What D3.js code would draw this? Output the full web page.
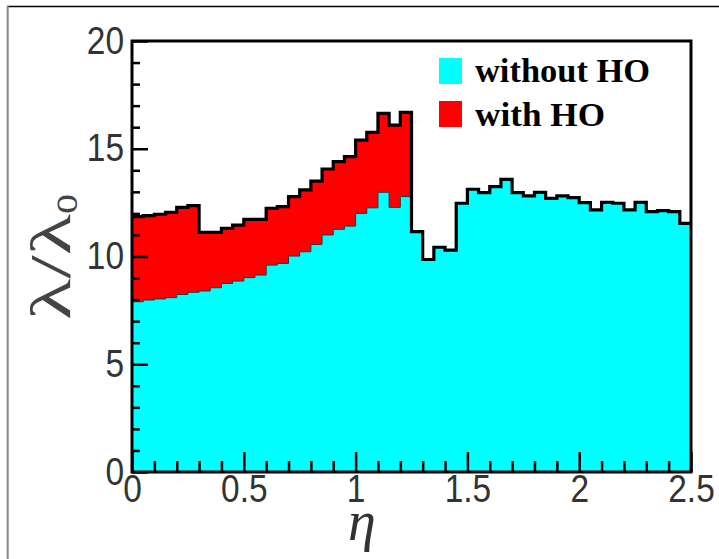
<!DOCTYPE html>
<html>
<head>
<meta charset="utf-8">
<script src="https://cdn.jsdelivr.net/npm/d3@7"></script>
<style>
  html, body { margin: 0; padding: 0; background: #fff; }
  svg { display: block; }
</style>
</head>
<body>
<svg id="chart" width="719" height="559"></svg>
<script>
// ---- data ----
const binLowEdges = [0.00,0.05,0.10,0.15,0.20,0.25,0.30,0.35,0.40,0.45,
                     0.50,0.55,0.60,0.65,0.70,0.75,0.80,0.85,0.90,0.95,
                     1.00,1.05,1.10,1.15,1.20,1.25,1.30,1.35,1.40,1.45,
                     1.50,1.55,1.60,1.65,1.70,1.75,1.80,1.85,1.90,1.95,
                     2.00,2.05,2.10,2.15,2.20,2.25,2.30,2.35,2.40,2.45];
const binUpperEnd = 2.5;
const withoutHO = [7.90,7.98,8.03,8.09,8.24,8.34,8.40,8.55,8.75,8.86,
                   9.02,9.14,9.60,9.68,10.02,10.22,10.56,11.00,11.26,11.41,
                   12.00,12.26,12.98,12.28,12.78,11.15,9.86,10.43,10.30,12.47,
                   13.12,12.96,13.24,13.58,12.96,12.81,12.98,12.70,12.81,12.73,
                   12.50,12.16,12.51,12.47,12.16,12.51,12.08,12.13,12.08,11.54];
const withHO = [11.85,11.90,11.96,12.05,12.28,12.36,11.12,11.12,11.31,11.46,
                11.72,11.72,12.24,12.31,12.78,13.09,13.50,14.06,14.40,14.63,
                15.40,15.76,16.64,16.10,16.69,11.15,9.86,10.43,10.30,12.47,
                13.12,12.96,13.24,13.58,12.96,12.81,12.98,12.70,12.81,12.73,
                12.50,12.16,12.51,12.47,12.16,12.51,12.08,12.13,12.08,11.54];
const xMajorTicks = [0, 0.5, 1, 1.5, 2, 2.5];
const xMinorTicks = [0.1,0.2,0.3,0.4,0.6,0.7,0.8,0.9,1.1,1.2,1.3,1.4,1.6,1.7,1.8,1.9,2.1,2.2,2.3,2.4];
const yMajorTicks = [0, 5, 10, 15, 20];
const yMinorTicks = [1,2,3,4,6,7,8,9,11,12,13,14,16,17,18,19];
const legendLabels = ["without HO", "with HO"];
const xLabel = "η";

// ---- layout ----
const svg = d3.select("#chart");
const L = 132, R = 691, T = 41, B = 472;
const x = d3.scaleLinear().domain([0, 2.5]).range([L, R]);
const y = d3.scaleLinear().domain([0, 20]).range([B, T]);

// outer page border (top + left)
svg.append("line").attr("x1", 7).attr("x2", 719).attr("y1", 6.5).attr("y2", 6.5)
  .attr("stroke", "#000").attr("stroke-width", 1.5);
svg.append("line").attr("x1", 7.7).attr("x2", 7.7).attr("y1", 6).attr("y2", 559)
  .attr("stroke", "#888").attr("stroke-width", 2);

// step data
function stepData(vals) {
  const d = binLowEdges.map((e, i) => ({ e: e, v: vals[i] }));
  d.push({ e: binUpperEnd, v: vals[vals.length - 1] });
  return d;
}
const totData = stepData(withHO);
const woData = stepData(withoutHO);

const area = d3.area().curve(d3.curveStepAfter)
  .x(d => x(d.e)).y0(y(0)).y1(d => y(d.v));
const line = d3.line().curve(d3.curveStepAfter)
  .x(d => x(d.e)).y(d => y(d.v));

svg.append("path").datum(totData).attr("d", area).attr("fill", "#ff0000");
svg.append("path").datum(woData).attr("d", area).attr("fill", "#00ffff");
svg.append("path").datum(woData).attr("d", line).attr("fill", "none")
  .attr("stroke", "#333").attr("stroke-width", 1);
svg.append("path").datum(totData).attr("d", line).attr("fill", "none")
  .attr("stroke", "#000").attr("stroke-width", 3.2).attr("stroke-linejoin", "miter");

// axes
const sx = 0.88;
const labelFont = "'Liberation Sans', Arial, Helvetica, sans-serif";

const gxMinor = svg.append("g").attr("transform", `translate(0,${B})`)
  .call(d3.axisBottom(x).tickValues(xMinorTicks).tickSize(-11).tickFormat(""));
const gx = svg.append("g").attr("transform", `translate(0,${B})`)
  .call(d3.axisBottom(x).tickValues(xMajorTicks).tickSize(-20).tickPadding(3)
        .tickFormat(d => String(d)));
const gyMinor = svg.append("g").attr("transform", `translate(${L},0)`)
  .call(d3.axisLeft(y).tickValues(yMinorTicks).tickSize(-8).tickFormat(""));
const gy = svg.append("g").attr("transform", `translate(${L},0)`)
  .call(d3.axisLeft(y).tickValues(yMajorTicks).tickSize(-16).tickPadding(8)
        .tickFormat(d => String(d)));

[gxMinor, gx, gyMinor, gy].forEach(g => {
  g.select(".domain").remove();
  g.selectAll(".tick line").attr("stroke", "#000").attr("stroke-width", 2.5);
});
gx.selectAll(".tick text")
  .attr("font-family", labelFont).attr("font-size", 38).attr("fill", "#333")
  .attr("transform", `scale(${sx},1)`);
gy.selectAll(".tick text")
  .attr("font-family", labelFont).attr("font-size", 38).attr("fill", "#333")
  .attr("x", -8 / sx).attr("transform", `scale(${sx},1)`);

// frame
svg.append("rect").attr("x", L).attr("y", T).attr("width", R - L).attr("height", B - T)
  .attr("fill", "none").attr("stroke", "#000").attr("stroke-width", 3);

// legend
const legColors = ["#00ffff", "#ff0000"];
const legY = [58, 101];
const legBase = [82, 126];
const legLen = [175, 130];
legendLabels.forEach((lab, i) => {
  svg.append("rect").attr("x", 439).attr("y", legY[i]).attr("width", 23).attr("height", 26)
    .attr("fill", legColors[i]);
  svg.append("text").attr("x", 475).attr("y", legBase[i])
    .attr("font-family", "'Liberation Serif', 'Times New Roman', serif")
    .attr("font-weight", "bold").attr("font-size", 33)
    .attr("textLength", legLen[i]).attr("lengthAdjust", "spacingAndGlyphs")
    .attr("fill", "#000").text(lab);
});

// x label
svg.append("text").attr("x", 362).attr("y", 540).attr("text-anchor", "middle")
  .attr("font-family", "'Liberation Serif', 'Times New Roman', serif")
  .attr("font-style", "italic").attr("font-size", 56).attr("fill", "#333")
  .text(xLabel);

// y label  λ/λ_o
const yl = svg.append("text")
  .attr("transform", "translate(70,320) rotate(-90)")
  .attr("font-family", "'Liberation Serif', 'Times New Roman', serif")
  .attr("font-size", 56).attr("fill", "#444");
yl.append("tspan").text("λ/λ")
  .attr("textLength", 106).attr("lengthAdjust", "spacingAndGlyphs");
yl.append("tspan").attr("font-size", 40).attr("dy", 7).text("o");
</script>
</body>
</html>
